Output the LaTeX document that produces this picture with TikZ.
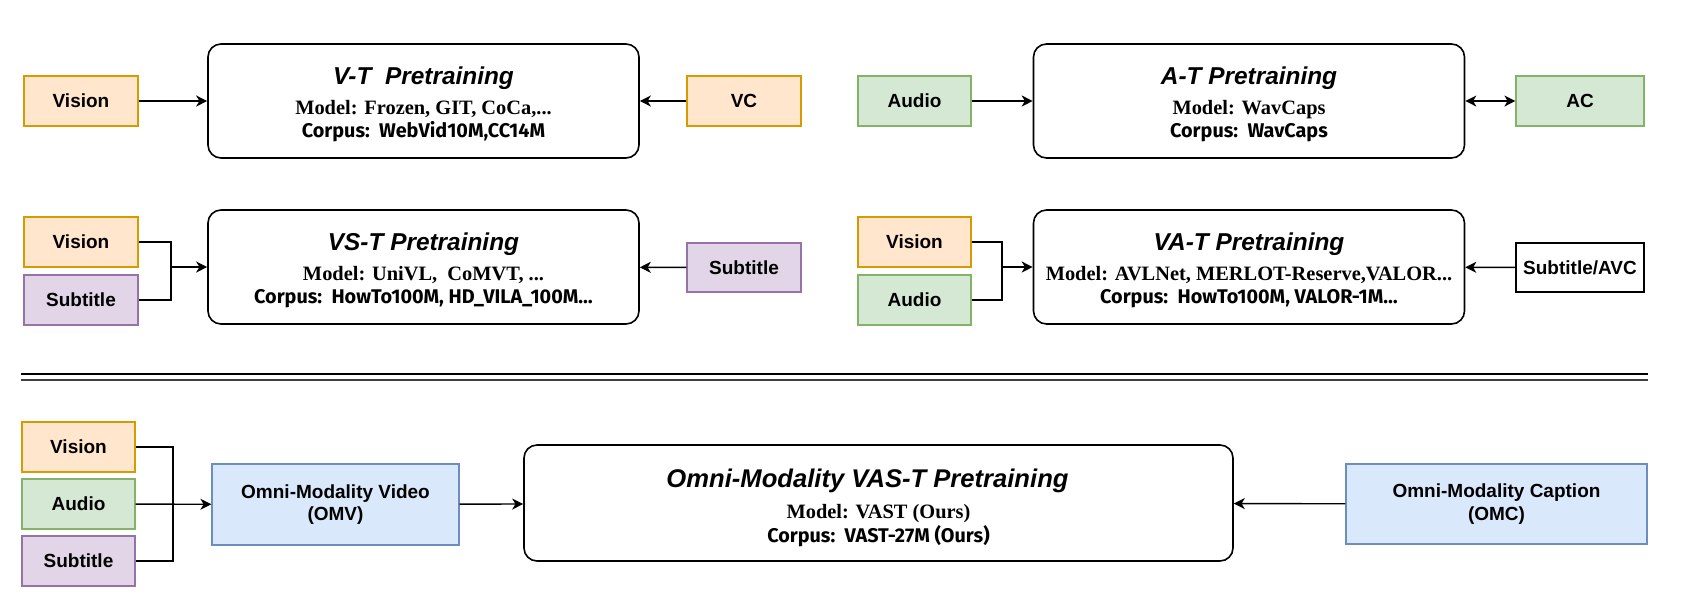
\documentclass[tikz,border=0pt]{standalone}
\usepackage{fontspec}
\setmainfont{Liberation Sans}
\newfontfamily\pmodel{Liberation Serif}
\newfontfamily\pcorpus{Fira Sans}
\usetikzlibrary{arrows.meta}

\definecolor{visfill}{HTML}{FFE6CC}
\definecolor{visdraw}{HTML}{D79B00}
\definecolor{audfill}{HTML}{D5E8D4}
\definecolor{auddraw}{HTML}{82B366}
\definecolor{subfill}{HTML}{E1D5E7}
\definecolor{subdraw}{HTML}{9673A6}
\definecolor{omfill}{HTML}{DAE8FC}
\definecolor{omdraw}{HTML}{6C8EBF}

\newcommand{\ptitle}{\fontsize{12.2}{14}\selectfont\bfseries\itshape}
\newcommand{\pmodeltxt}{\fontsize{10.2}{12}\selectfont\pmodel\bfseries}
\newcommand{\pcorpustxt}{\fontsize{9.9}{12}\selectfont\pcorpus\bfseries}

\tikzset{
  modbox/.style={draw, line width=0.6pt, inner sep=0pt, minimum width=57pt, minimum height=25pt,
    font=\fontsize{9.5}{11.4}\selectfont\bfseries, align=center},
  vision/.style={modbox, fill=visfill, draw=visdraw},
  audio/.style={modbox, fill=audfill, draw=auddraw},
  subtitle/.style={modbox, fill=subfill, draw=subdraw},
  omni/.style={modbox, fill=omfill, draw=omdraw},
  pretrain/.style={draw, line width=0.8pt, rounded corners=6.5pt, inner sep=0pt,
    minimum width=215.5pt, minimum height=57pt, align=center, font=\fontsize{10}{12}\selectfont},
  >={Stealth[length=5.5pt, width=5.5pt, inset=1.6pt]},
  conn/.style={line width=0.7pt}
}

\begin{document}
\begin{tikzpicture}[x=0.5pt, y=-0.5pt]
	\useasboundingbox (0,0) rectangle (1702,612);

	% first row
	\node (visA) at (81,101) [vision] {Vision};
	\node (vt) at (423.5,101) [pretrain] {{\ptitle\rule{0pt}{12pt}V-T\ \ Pretraining}\\[3pt]
		{\pmodeltxt Model: Frozen, GIT, CoCa,...}\\[-0.5pt]
		{\pcorpustxt Corpus:~~WebVid10M,CC14M}};
	\node (vc) at (744,101) [vision] {VC};
	\node (audA) at (914.5,101) [audio, minimum width=56.5pt] {Audio};
	\node (at) at (1249,101) [pretrain] {{\ptitle\rule{0pt}{12pt}A-T Pretraining}\\[3pt]
		{\pmodeltxt Model: WavCaps}\\[-0.5pt]
		{\pcorpustxt Corpus:~~WavCaps}};
	\node (ac) at (1580,101) [audio, minimum width=64pt] {AC};

	\draw [conn, ->] (visA) -- (vt);
	\draw [conn, ->] (vc) -- (vt);
	\draw [conn, ->] (audA) -- (at);
	\draw [conn, <->] (at) -- (ac);

	% second row
	\node (visB) at (81,242) [vision] {Vision};
	\node (subB) at (81,300) [subtitle] {Subtitle};
	\coordinate (jB) at (171,267);
	\node (vst) at (423.5,267) [pretrain] {{\ptitle\rule{0pt}{12pt}VS-T Pretraining}\\[3pt]
		{\pmodeltxt Model: UniVL,\ \ CoMVT, ...}\\[-0.5pt]
		{\pcorpustxt Corpus:~~HowTo100M,\ HD\_VILA\_100M\ldots}};
	\node (subC) at (744,267.5) [subtitle, minimum height=24.5pt] {Subtitle};
	\node (visD) at (914.5,242) [vision, minimum width=56.5pt] {Vision};
	\node (audD) at (914.5,300) [audio, minimum width=56.5pt] {Audio};
	\coordinate (jD) at (1002,267);
	\node (vat) at (1249,267) [pretrain] {{\ptitle\rule{0pt}{12pt}VA-T Pretraining}\\[3pt]
		{\pmodeltxt Model: AVLNet, MERLOT-Reserve,VALOR...}\\[-0.5pt]
		{\pcorpustxt Corpus:~~HowTo100M,\ VALOR-1M\ldots}};
	\node (avc) at (1580,267.5) [modbox, draw=black, minimum width=64pt, minimum height=24.5pt] {Subtitle/AVC};

	\draw [conn] (visB.east) -| (jB) |- (subB.east);
	\draw [conn, ->] (jB) -- (vst.west);
	\draw [conn, ->] (subC) -- (vst);
	\draw [conn] (visD.east) -| (jD) |- (audD.east);
	\draw [conn, ->] (jD) -- (vat.west);
	\draw [conn, ->] (avc) -- (vat);

	% separator
	\draw [line width=0.7pt] (21,374) -- (1648,374);
	\draw [line width=0.7pt, black!75] (21,380) -- (1648,380);

	% omni-modality row
	\node (visE) at (78.5,447) [vision, minimum width=56.5pt] {Vision};
	\node (audE) at (78.5,504) [audio, minimum width=56.5pt] {Audio};
	\node (subE) at (78.5,561) [subtitle, minimum width=56.5pt] {Subtitle};
	\coordinate (jE) at (173,504);
	\node (omv) at (335.5,504.5) [omni, minimum width=123.5pt, minimum height=40.5pt] {Omni-Modality Video\\(OMV)};
	\node (vast) at (878.5,503) [pretrain, minimum width=354.5pt, minimum height=58pt] {{\ptitle\fontsize{12.8}{14}\selectfont\rule{0pt}{14.3pt}Omni-Modality VAS-T Pretraining\hspace*{11pt}}\\[3.5pt]
		{\pmodeltxt Model: VAST (Ours)}\\[0pt]
		{\pcorpustxt Corpus:~~VAST-27M (Ours)}};
	\node (omc) at (1496.5,504) [omni, minimum width=150.5pt, minimum height=40pt] {Omni-Modality Caption\\(OMC)};

	\draw [conn] (visE.east) -| (jE) |- (subE.east);
	\draw [conn, ->] (audE) -- (omv);
	\draw [conn, ->] (omv) -- (vast);
	\draw [conn, ->] (omc) -- (vast);
\end{tikzpicture}
\end{document}
